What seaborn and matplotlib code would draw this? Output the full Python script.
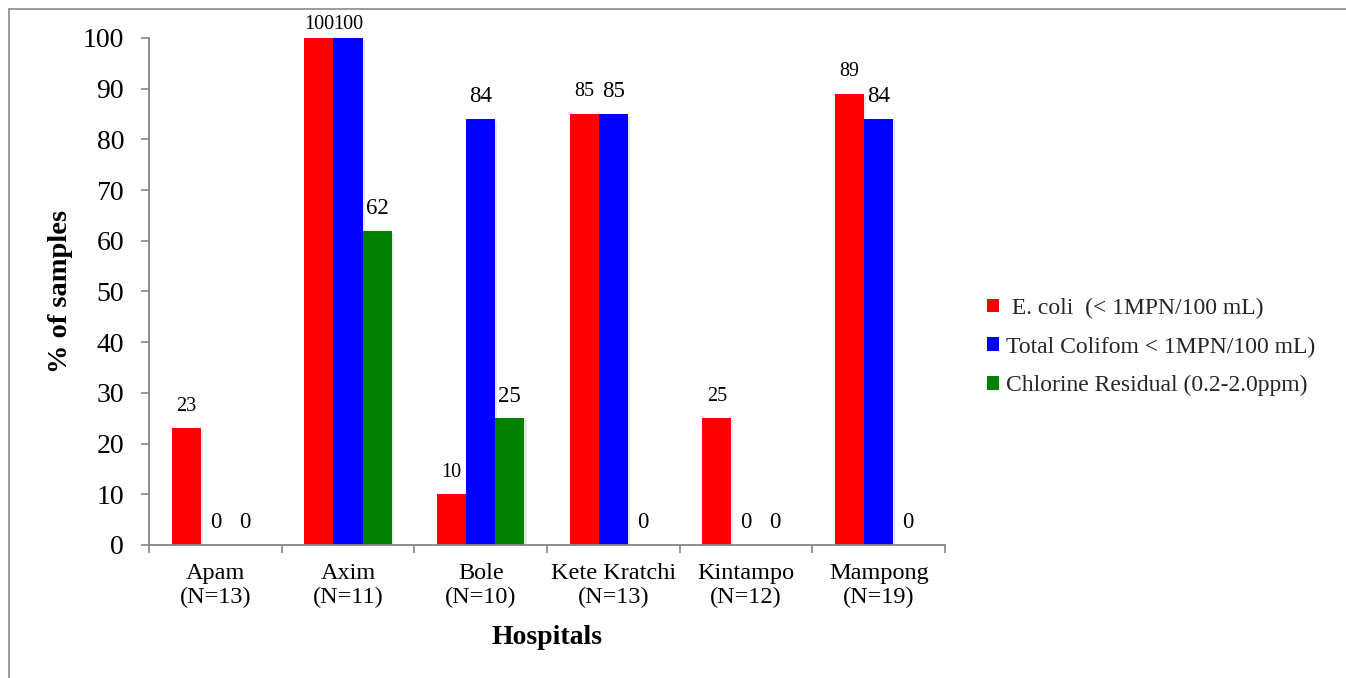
import numpy as np
import pandas as pd
import seaborn as sns
import matplotlib
matplotlib.use("Agg")
import matplotlib.pyplot as plt
from matplotlib.patches import Patch
from matplotlib.lines import Line2D
import matplotlib.patheffects as pe

# ---- data -------------------------------------------------------------
hospitals = ["Apam", "Axim", "Bole", "Kete Kratchi", "Kintampo", "Mampong"]
sample_n = [13, 11, 10, 13, 12, 19]
measures = [" E. coli  (< 1MPN/100 mL)",
            "Total Colifom < 1MPN/100 mL)",
            "Chlorine Residual (0.2-2.0ppm)"]
ecoli = [23, 100, 10, 85, 25, 89]
total_coliform = [0, 100, 84, 85, 0, 84]
chlorine = [0, 62, 25, 0, 0, 0]
colors = ["#FF0000", "#0000FF", "#008000"]

df = pd.DataFrame({
    "Hospital": hospitals * 3,
    "Measure": sum([[m] * len(hospitals) for m in measures], []),
    "Percent": ecoli + total_coliform + chlorine,
})

# ---- figure -----------------------------------------------------------
sns.set_theme(style="white")
plt.rcParams["font.family"] = ["Liberation Serif", "DejaVu Serif"]

fig = plt.figure(figsize=(13.46, 6.78), dpi=100)
ax = fig.add_axes([149 / 1346, 1 - 545 / 678, 796 / 1346, 507 / 678])

sns.barplot(data=df, x="Hospital", y="Percent", hue="Measure",
            order=hospitals, hue_order=measures, palette=colors,
            saturation=1, width=0.66, gap=0, linewidth=0, ax=ax,
            legend=False)

shadow = [pe.SimplePatchShadow(offset=(1.5, -1.5), shadow_rgbFace="#b0b0b0",
                               alpha=0.3), pe.Normal()]
for cont in ax.containers:
    for bar in cont:
        bar.set_path_effects(shadow)

# value labels above each bar
label_sizes = [14.5, 16.5, 16.5]
for ci, cont in enumerate(ax.containers):
    for bi, bar in enumerate(cont):
        val = bar.get_height()
        x = bar.get_x() + bar.get_width() / 2
        size = label_sizes[ci]
        off = 16
        if val >= 100:
            size = 14.5
            off = 9.5
        ax.annotate(f"{val:.0f}", (x, val), xytext=(0, off),
                    textcoords="offset points", ha="center", va="center",
                    fontsize=size, color="black", annotation_clip=False)

# axes styling
ax.set_ylim(0, 100)
ax.set_xlim(-0.5, len(hospitals) - 0.5)
ax.set_yticks(np.arange(0, 101, 10))
ax.tick_params(axis="y", labelsize=20, length=6, width=1.2,
               color="#868686", pad=12, left=True, labelcolor="black")
ax.set_xticks(np.arange(-0.5, len(hospitals), 1.0))
ax.set_xticklabels([])
ax.set_xticks(np.arange(len(hospitals)), minor=True)
ax.set_xticklabels([f"{h}\n(N={n})" for h, n in zip(hospitals, sample_n)],
                   minor=True, fontsize=17.5, linespacing=1.2)
ax.tick_params(axis="x", which="major", length=6, width=1.2,
               color="#868686", bottom=True)
ax.tick_params(axis="x", which="minor", length=0, pad=13, labelcolor="black")

for side in ["top", "right"]:
    ax.spines[side].set_visible(False)
for side in ["left", "bottom"]:
    ax.spines[side].set_color("#868686")
    ax.spines[side].set_linewidth(1.3)

ax.set_ylabel("% of samples", fontsize=20.5, fontweight="bold", color="black")
ax.yaxis.set_label_coords(-0.096, 0.5)
ax.set_xlabel("Hospitals", fontsize=20, fontweight="bold", labelpad=12,
              color="black")

handles = [Patch(facecolor=c, edgecolor="none") for c in colors]
ax.legend(handles, measures, loc="center left",
          bbox_to_anchor=(987 / 1346, 1 - 347 / 678),
          bbox_transform=fig.transFigure, frameon=False, fontsize=17,
          handlelength=0.5, handleheight=0.5, handletextpad=0.3,
          labelspacing=0.75, borderpad=0, borderaxespad=0)

# outer frame (top and left edges)
fig.add_artist(Line2D([8.5 / 1346, 8.5 / 1346], [0, 1 - 9 / 678],
                      transform=fig.transFigure, color="#8a8a8a", lw=1.2))
fig.add_artist(Line2D([8.5 / 1346, 1], [1 - 9 / 678, 1 - 9 / 678],
                      transform=fig.transFigure, color="#8a8a8a", lw=1.2))

fig.savefig("out.png", dpi=100, facecolor="white")
